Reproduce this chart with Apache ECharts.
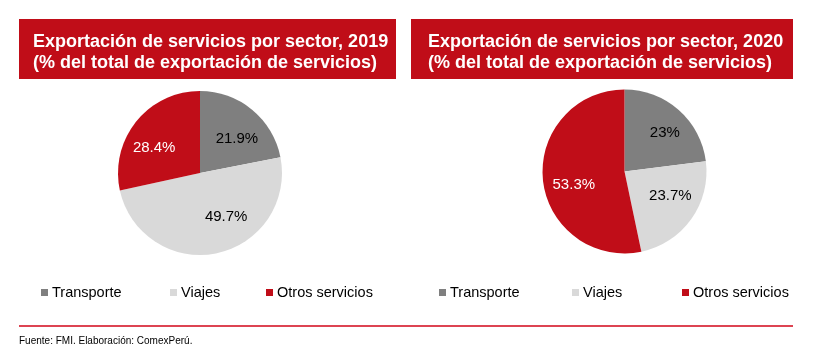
<!DOCTYPE html>
<html>
<head>
<meta charset="utf-8">
<script src="https://cdn.jsdelivr.net/npm/echarts@6/dist/echarts.min.js"></script>
<style>
html,body{margin:0;padding:0;background:#fff;}
#c{width:813px;height:361px;}
</style>
</head>
<body>
<div id="c"></div>
<script>
const categories = ['Transporte', 'Viajes', 'Otros servicios'];
const values2019 = [21.9, 49.7, 28.4];
const values2020 = [23, 23.7, 53.3];
const titles = [
  ['Exportación de servicios por sector, 2019', '(% del total de exportación de servicios)'],
  ['Exportación de servicios por sector, 2020', '(% del total de exportación de servicios)']
];
const sourceText = 'Fuente: FMI. Elaboración: ComexPerú.';

const colors = ['#7f7f7f', '#d9d9d9', '#c00d18'];
const labelColors = ['#000', '#000', '#fff'];
const FONT = 'Liberation Sans, Arial, sans-serif';
// label nudges (style only), per pie, per slice
const labelNudge = [
  [[2, 8], [15, -10], [-3, 9]],
  [[4, 3], [1, -8], [4, 8]]
];

function mainData(vals) {
  return categories.map((n, i) => ({ name: n, value: vals[i], itemStyle: { color: colors[i] } }));
}
function labelData(vals) {
  return categories.map((n, i) => ({
    name: n, value: vals[i],
    itemStyle: { color: 'rgba(0,0,0,0)' },
    label: { color: labelColors[i] }
  }));
}
function pieSeries(vals, center, pieIdx) {
  return [
    {
      type: 'pie', radius: [0, 82], center: center, silent: true,
      startAngle: 90, clockwise: true,
      itemStyle: { borderWidth: 0 },
      label: { show: false }, labelLine: { show: false },
      data: mainData(vals)
    },
    {
      type: 'pie', radius: [0, 104], center: center, silent: true,
      startAngle: 90, clockwise: true,
      itemStyle: { borderWidth: 0, color: 'rgba(0,0,0,0)' },
      label: { show: true, position: 'inside', formatter: '{c}%', fontSize: 15, fontFamily: FONT },
      labelLine: { show: false },
      labelLayout: function (p) {
        const n = labelNudge[pieIdx][p.dataIndex];
        return { dx: n[0], dy: n[1] };
      },
      data: labelData(vals)
    }
  ];
}

const legendPos = [
  [41, 170, 266],
  [439, 572, 682]
];
const legends = [];
legendPos.forEach(row => {
  row.forEach((x, i) => {
    legends.push({
      left: x, top: 285, orient: 'horizontal', padding: 0,
      icon: 'rect', itemWidth: 7, itemHeight: 7, itemGap: 0,
      selectedMode: false,
      textStyle: { fontSize: 14.5, color: '#000', fontFamily: FONT, padding: [0, 0, 0, -1] },
      data: [{ name: categories[i], itemStyle: { color: colors[i] } }]
    });
  });
});

const chart = echarts.init(document.getElementById('c'), null, { renderer: 'canvas' });
chart.setOption({
  backgroundColor: '#fff',
  animation: false,
  legend: legends,
  graphic: [
    { type: 'rect', shape: { x: 19, y: 19, width: 377, height: 60 }, style: { fill: '#c00d18' }, silent: true },
    { type: 'rect', shape: { x: 411, y: 19, width: 382, height: 60 }, style: { fill: '#c00d18' }, silent: true },
    { type: 'text', left: 33, top: 32, style: { text: titles[0].join('\n'), fill: '#fff', font: 'bold 18px ' + FONT, lineHeight: 21 } },
    { type: 'text', left: 428, top: 32, style: { text: titles[1].join('\n'), fill: '#fff', font: 'bold 18px ' + FONT, lineHeight: 21 } },
    { type: 'rect', shape: { x: 19, y: 325, width: 774, height: 2 }, style: { fill: '#dd4452' }, silent: true },
    { type: 'text', left: 19, top: 336, style: { text: sourceText, fill: '#000', font: '10px ' + FONT } }
  ],
  series: [
    ...pieSeries(values2019, [200, 173], 0),
    ...pieSeries(values2020, [624.5, 171.5], 1)
  ]
});
</script>
</body>
</html>
